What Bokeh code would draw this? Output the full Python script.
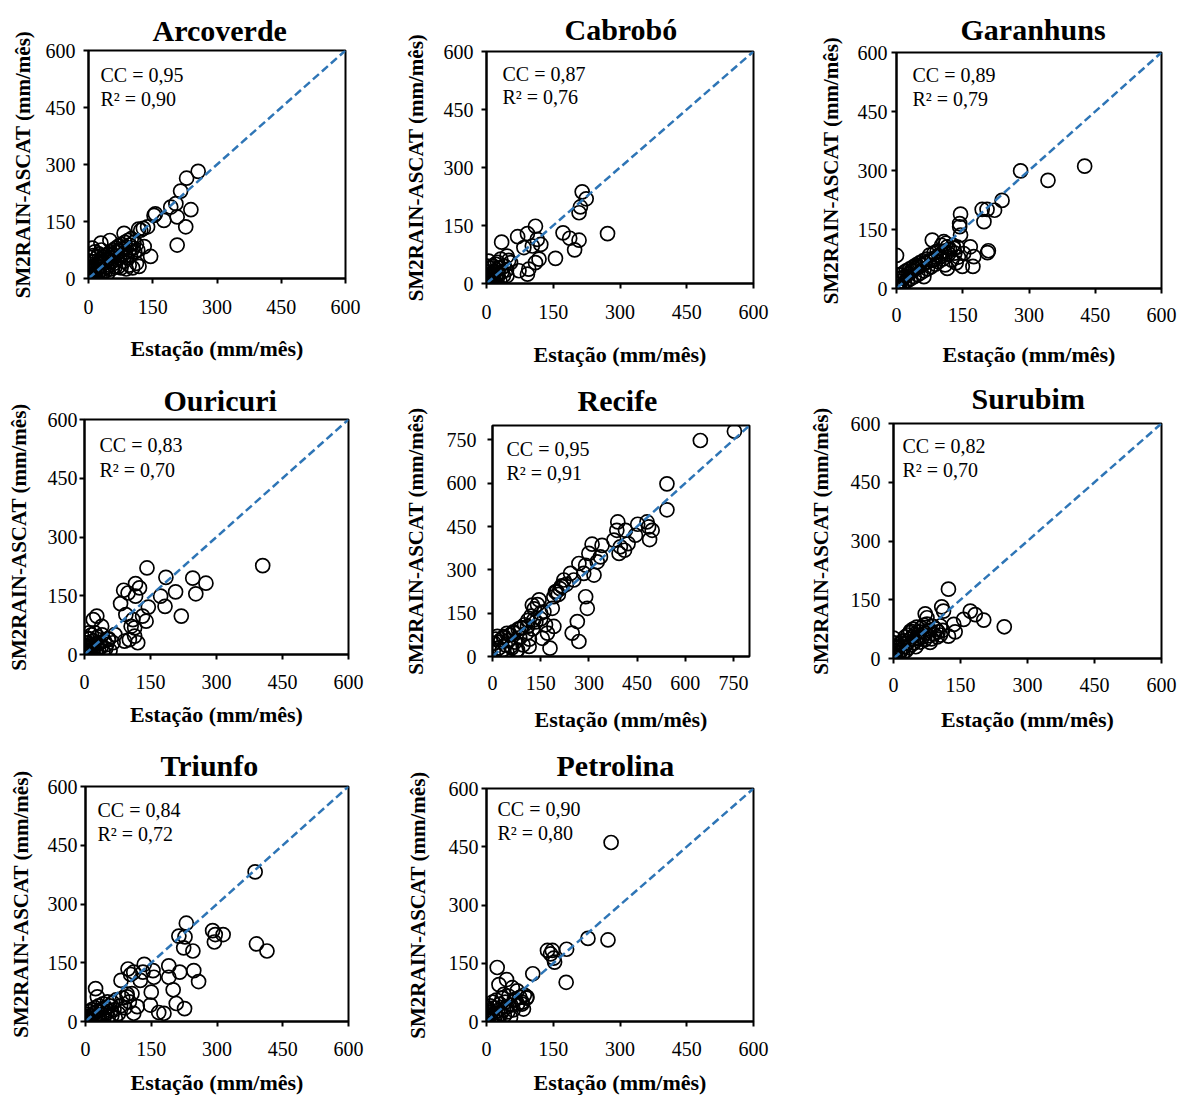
from bokeh.plotting import figure
from bokeh.models import Range1d, FixedTicker, Label
from bokeh.layouts import column, row
from bokeh.embed import file_html
from bokeh.resources import INLINE

# ---------------- data ----------------
STATIONS = ["Arcoverde", "Cabrobó", "Garanhuns", "Ouricuri", "Recife", "Surubim", "Triunfo", "Petrolina"]
CC = ["0,95", "0,87", "0,89", "0,83", "0,95", "0,82", "0,84", "0,90"]
R2 = ["0,90", "0,76", "0,79", "0,70", "0,91", "0,70", "0,72", "0,80"]
AXIS_MAX = [600, 600, 600, 600, 800, 600, 600, 600]
TICKS_600 = [0, 150, 300, 450, 600]
TICKS_800 = [0, 150, 300, 450, 600, 750]

ARC_X = [256, 229, 215, 204, 192, 239, 207, 176, 153, 156, 227, 207, 138,
         122, 117, 128, 145, 130, 83, 50, 29, 9, 103, 118, 88, 112,
         2, 3, 5, 6, 8, 10, 12, 14, 15, 18, 20, 22, 25,
         26, 28, 30, 32, 35, 36, 38, 40, 42, 45, 46, 48, 50,
         52, 55, 56, 58, 60, 62, 64, 66, 68, 70, 72, 74, 76,
         78, 80, 82, 85, 86, 88, 90, 92, 95, 96, 98, 100, 104,
         106, 108, 112, 115, 1, 4, 7, 0, 1, 3, 5, 10, 15,
         20, 24, 30, 11, 16, 22, 27, 33, 40, 44, 54, 62, 70,
         76, 95]
ARC_Y = [282, 264, 230, 197, 188, 181, 162, 153, 166, 170, 136, 88, 136,
         127, 130, 132, 58, 84, 119, 100, 93, 80, 28, 32, 25, 40,
         5, 10, 3, 15, 20, 8, 25, 30, 12, 35, 22, 40, 18,
         45, 30, 50, 38, 25, 55, 42, 60, 30, 48, 65, 35, 55,
         70, 45, 62, 75, 40, 58, 80, 50, 68, 85, 55, 72, 90,
         60, 78, 45, 95, 70, 82, 55, 100, 75, 88, 62, 105, 80,
         95, 70, 90, 75, 1, 0, 2, 8, 30, 45, 55, 60, 70,
         55, 65, 75, 3, 6, 10, 8, 15, 20, 12, 25, 30, 32,
         28, 35]

CAB_X = [215, 224, 211, 208, 272, 172, 187, 208, 198, 155, 110, 92, 70,
         34, 114, 122, 103, 84, 110, 118, 95, 92, 73, 46, 32, 54,
         39, 2, 5, 46, 2, 4, 6, 8, 10, 12, 14, 16, 18,
         20, 22, 24, 26, 28, 30, 3, 5, 7, 1, 9, 15, 20,
         25, 35, 38, 40, 45, 50, 12, 0]
CAB_Y = [237, 219, 198, 183, 129, 131, 117, 112, 87, 65, 148, 129, 121,
         107, 114, 101, 97, 93, 54, 63, 37, 24, 33, 71, 63, 54,
         45, 45, 58, 20, 2, 8, 3, 15, 5, 20, 10, 28, 6,
         15, 35, 12, 25, 40, 8, 20, 30, 40, 12, 25, 45, 50,
         55, 30, 20, 45, 35, 60, 1, 5]

GAR_X = [281, 343, 426, 239, 222, 205, 194, 198, 145, 143, 143, 145, 208,
         206, 175, 173, 167, 152, 149, 115, 81, 107, 115, 130, 85, 62,
         0, 100, 47, 2, 4, 5, 6, 8, 10, 12, 14, 16, 18,
         20, 22, 25, 28, 30, 32, 35, 38, 40, 42, 45, 48, 50,
         52, 55, 58, 60, 62, 65, 68, 70, 72, 75, 78, 80, 85,
         88, 90, 92, 95, 98, 102, 105, 108, 110, 112, 118, 120, 125,
         128, 132, 135, 138, 140, 1, 3, 1, 7, 12]
GAR_Y = [299, 275, 311, 224, 199, 201, 201, 170, 189, 165, 157, 136, 96,
         91, 81, 56, 106, 89, 56, 51, 123, 119, 106, 102, 73, 30,
         84, 81, 56, 3, 10, 25, 5, 18, 35, 8, 28, 40, 15,
         30, 45, 20, 38, 50, 25, 45, 55, 30, 50, 60, 35, 55,
         65, 40, 60, 70, 45, 65, 75, 50, 68, 85, 55, 72, 90,
         62, 80, 95, 68, 85, 110, 75, 95, 60, 115, 88, 100, 72,
         110, 90, 65, 105, 80, 12, 35, 0, 1, 2]

OUR_X = [405, 276, 253, 246, 207, 220, 185, 183, 173, 142, 145, 132, 140,
         116, 125, 116, 89, 99, 82, 94, 110, 106, 114, 121, 102, 91,
         114, 28, 20, 39, 69, 65, 54, 1, 2, 3, 4, 5, 6,
         8, 9, 10, 12, 14, 15, 16, 18, 20, 22, 24, 25, 28,
         30, 32, 35, 38, 40, 42, 45, 48, 50, 55, 58, 2, 5,
         10, 1]
OUR_Y = [227, 182, 155, 195, 160, 98, 197, 123, 149, 221, 121, 98, 85,
         181, 170, 149, 164, 157, 130, 102, 89, 72, 47, 30, 38, 34,
         68, 98, 89, 72, 51, 30, 38, 1, 5, 12, 2, 20, 8,
         30, 3, 15, 40, 6, 25, 50, 10, 35, 18, 55, 5, 28,
         45, 12, 30, 20, 50, 8, 35, 15, 25, 40, 10, 30, 42,
         55, 18]

REC_X = [753, 647, 543, 543, 486, 481, 497, 489, 452, 445, 390, 387, 398,
         394, 378, 414, 422, 411, 341, 310, 336, 300, 326, 316, 269, 290,
         284, 243, 253, 222, 217, 196, 191, 290, 295, 264, 248, 269, 186,
         191, 179, 145, 124, 150, 129, 155, 114, 171, 109, 88, 67, 36,
         5, 26, 57, 78, 31, 20, 25, 30, 35, 40, 45, 50, 55,
         60, 65, 70, 75, 80, 85, 90, 95, 100, 105, 110, 115, 120,
         125, 130, 135, 140, 150, 160, 165, 15, 10, 45, 200, 205, 210,
         230, 215]
REC_Y = [780, 748, 598, 508, 449, 466, 437, 405, 458, 420, 466, 437, 380,
         357, 403, 437, 391, 368, 385, 389, 345, 357, 328, 282, 322, 316,
         288, 288, 265, 265, 242, 224, 207, 207, 167, 121, 81, 52, 167,
         104, 29, 196, 178, 150, 127, 63, 35, 81, 104, 98, 81, 69,
         46, 58, 35, 23, 23, 30, 50, 20, 65, 40, 15, 55, 75,
         30, 85, 50, 20, 95, 65, 100, 40, 110, 80, 125, 60, 140,
         95, 165, 120, 180, 130, 155, 110, 70, 60, 80, 225, 215, 235,
         250, 245]

SUR_X = [248, 202, 183, 172, 157, 138, 123, 108, 112, 71, 75, 135, 105,
         123, 82, 52, 37, 0, 2, 3, 5, 6, 8, 10, 12, 14,
         16, 18, 20, 22, 24, 26, 28, 30, 32, 34, 36, 38, 40,
         42, 44, 46, 48, 50, 52, 55, 58, 60, 62, 65, 68, 70,
         72, 75, 78, 80, 85, 88, 90, 95, 98, 100, 105, 110, 1,
         4, 2]
SUR_Y = [81, 98, 112, 121, 100, 68, 177, 132, 121, 114, 104, 87, 83,
         57, 41, 53, 66, 52, 3, 10, 5, 18, 25, 8, 30, 15,
         40, 22, 10, 45, 30, 55, 20, 38, 60, 28, 48, 70, 35,
         55, 75, 40, 62, 30, 80, 50, 68, 42, 78, 55, 85, 48,
         65, 88, 58, 72, 50, 82, 62, 75, 55, 68, 60, 72, 20,
         30, 40]

TRI_X = [387, 390, 414, 290, 296, 314, 294, 230, 213, 227, 224, 245, 247,
         258, 215, 190, 190, 200, 207, 226, 150, 148, 167, 179, 154, 156,
         134, 131, 110, 97, 103, 81, 23, 125, 106, 95, 118, 110, 68,
         27, 1, 2, 3, 4, 5, 6, 8, 9, 10, 12, 14, 15,
         18, 20, 22, 24, 26, 28, 30, 32, 35, 38, 40, 42, 45,
         48, 50, 52, 55, 58, 60, 62, 65, 70, 75, 80, 85, 90,
         95, 100]
TRI_Y = [382, 198, 180, 232, 222, 222, 203, 251, 218, 216, 188, 180, 130,
         102, 126, 142, 113, 81, 46, 33, 75, 42, 23, 21, 130, 113,
         146, 126, 126, 134, 120, 105, 84, 105, 71, 63, 38, 21, 8,
         63, 2, 6, 1, 12, 4, 18, 8, 25, 3, 14, 30, 6,
         20, 10, 35, 5, 25, 15, 40, 8, 30, 18, 45, 10, 35,
         22, 50, 12, 40, 28, 15, 48, 30, 55, 20, 40, 60, 35,
         70, 50]

PET_X = [280, 228, 273, 180, 137, 148, 144, 151, 153, 179, 104, 24, 45,
         28, 58, 69, 91, 80, 83, 54, 65, 39, 1, 2, 3, 4,
         5, 6, 8, 10, 12, 14, 15, 18, 20, 22, 25, 28, 30,
         32, 35, 38, 40, 42, 45, 48, 50, 55, 60, 62, 70, 75,
         80, 85, 90, 1, 2, 0]
PET_Y = [461, 214, 210, 186, 183, 183, 174, 163, 153, 101, 123, 139, 108,
         95, 87, 79, 63, 45, 32, 11, 57, 70, 1, 8, 20, 3,
         30, 12, 40, 5, 25, 50, 10, 35, 15, 55, 28, 8, 45,
         20, 60, 30, 15, 50, 38, 25, 65, 42, 30, 55, 45, 62,
         50, 68, 60, 25, 35, 15]

SERIES_X = [ARC_X, CAB_X, GAR_X, OUR_X, REC_X, SUR_X, TRI_X, PET_X]
SERIES_Y = [ARC_Y, CAB_Y, GAR_Y, OUR_Y, REC_Y, SUR_Y, TRI_Y, PET_Y]

# ---------------- layout geometry (page px) ----------------
# plot frame rectangles (left, top, right, bottom)
FRAMES = [(88, 50, 345, 279), (486, 51, 753, 284), (896, 52, 1161, 289),
          (84, 419, 348, 655), (492, 425, 749, 657), (893, 423, 1161, 659),
          (85, 786, 348, 1023), (486, 788, 753, 1023)]
ROWS = [[0, 1, 2], [3, 4, 5], [6, 7]]
ROW_Y = [0, 366, 736, 1097]          # row start positions
ROW_BT = [50, 53, 50]                # uniform top border per row
ROW_BB = [85, 77, 74]                # uniform bottom border per row
FIG_X0 = [0, 400, 810, 0, 400, 803, 0, 400]   # canvas left edge
BR = 18
# title: (offset from frame left to text start, standoff)
TITLE_GEOM = [(64, 8), (78, 12), (64, 14), (79, 6), (85, 17), (78, 17), (75, 10), (70, 14)]
# annotation offsets: (dx from frame left, CC baseline below top, R2 baseline below top)
ANN = [(12, 25, 49), (16, 23, 46), (16, 23, 47), (15, 26, 51),
       (14, 24, 48), (9, 23, 47), (12, 24, 48), (11, 21, 45)]
# axis standoffs: (x label, x title, y label, y title)
STANDOFF = [(16, 19, 8, 8), (16, 20, 8, 13), (14, 17, 4, 12), (15, 10, 2, 14),
            (14, 14, 11, 16), (14, 12, 8, 15), (15, 11, 3, 12), (15, 11, 3, 16)]

FONT = "Liberation Serif"
BLUE = "#2E75B6"


def make_panel(i, r):
    L, T, R, B = FRAMES[i]
    bl = L - FIG_X0[i]
    bt, bb = ROW_BT[r], ROW_BB[r]
    fw, fh = R - L, B - T
    W, H = bl + fw + BR, bt + fh + bb
    vmax = AXIS_MAX[i]
    ticks = TICKS_800 if vmax == 800 else TICKS_600
    p = figure(width=W, height=H, output_backend="svg", toolbar_location=None,
               x_range=Range1d(0, vmax), y_range=Range1d(0, vmax))
    p.min_border_left = bl
    p.min_border_right = BR
    p.min_border_top = bt
    p.min_border_bottom = bb
    p.background_fill_color = "white"
    p.border_fill_color = None
    p.outline_line_color = "black"
    p.outline_line_width = 2
    p.outline_line_alpha = 1
    p.grid.visible = False

    toff, tstand = TITLE_GEOM[i]
    p.title.text = STATIONS[i]
    p.title.align = "left"
    p.title.offset = toff
    p.title.standoff = tstand
    p.title.text_font = FONT
    p.title.text_font_size = "30px"
    p.title.text_font_style = "bold"
    p.title.text_color = "black"

    xs, xts, ys, yts = STANDOFF[i]
    for ax in (p.xaxis[0], p.yaxis[0]):
        ax.ticker = FixedTicker(ticks=ticks)
        ax.axis_line_width = 2
        ax.axis_line_color = "black"
        ax.major_tick_line_width = 2
        ax.major_tick_line_color = "black"
        ax.major_tick_out = 5
        ax.major_tick_in = 0
        ax.minor_tick_out = 0
        ax.minor_tick_in = 0
        ax.major_label_text_font = FONT
        ax.major_label_text_font_size = "20px"
        ax.major_label_text_color = "black"
        ax.axis_label_text_font = FONT
        ax.axis_label_text_font_style = "bold"
        ax.axis_label_text_color = "black"
    p.xaxis[0].axis_label = "Estação (mm/mês)"
    p.xaxis[0].axis_label_text_font_size = "22px"
    p.xaxis[0].major_label_standoff = xs
    p.xaxis[0].axis_label_standoff = xts
    p.yaxis[0].axis_label = "SM2RAIN-ASCAT (mm/mês)"
    p.yaxis[0].axis_label_text_font_size = "21px"
    p.yaxis[0].major_label_standoff = ys
    p.yaxis[0].axis_label_standoff = yts

    p.scatter(SERIES_X[i], SERIES_Y[i], marker="circle", size=14,
              fill_alpha=0, line_color="black", line_width=1.7)
    p.line([0, vmax], [0, vmax], line_color=BLUE, line_width=2.5, line_dash="8 4")

    dx, dy1, dy2 = ANN[i]
    xa = dx / fw * vmax
    for dy, txt in ((dy1, "CC = " + CC[i]), (dy2, "R² = " + R2[i])):
        p.add_layout(Label(x=xa, y=vmax * (1 - dy / fh), text=txt,
                           text_font=FONT, text_font_size="20px", text_color="black",
                           text_align="left", text_baseline="alphabetic"))

    # position on the page with CSS margins (may be negative: canvases are transparent)
    y_row, y_next = ROW_Y[r], ROW_Y[r + 1]
    mt = (T - bt) - y_row
    mb = (y_next - y_row) - mt - H
    return p, mt, mb, W


rows = []
for r, idxs in enumerate(ROWS):
    items = []
    prev_right = 0
    for i in idxs:
        p, mt, mb, W = make_panel(i, r)
        ml = FIG_X0[i] - prev_right
        p.margin = (mt, 0, mb, ml)
        prev_right = FIG_X0[i] + W
        items.append(p)
    rows.append(row(*items))

layout = column(*rows)
open("out.html", "w").write(file_html(layout, INLINE))
